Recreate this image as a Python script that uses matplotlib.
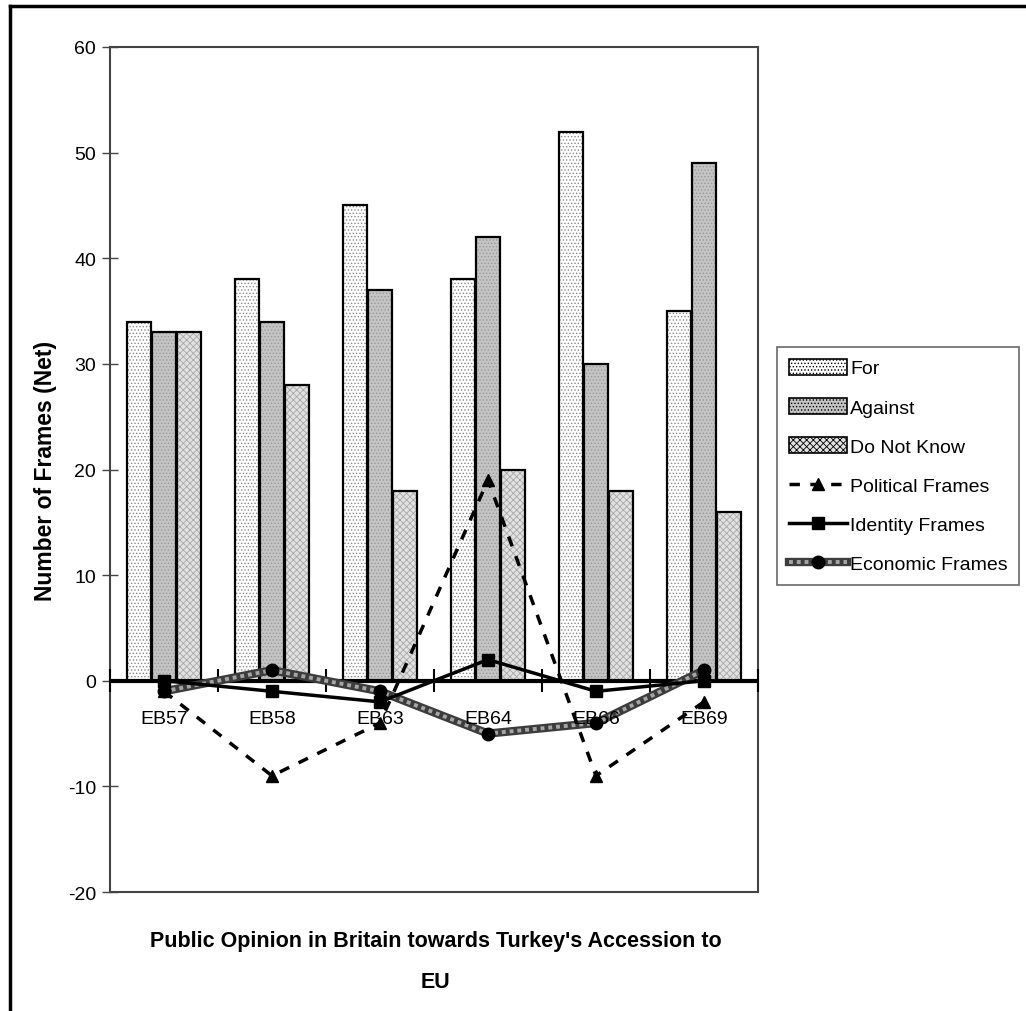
import matplotlib
matplotlib.use("Agg")
import numpy as np
from matplotlib import pyplot as plt
from matplotlib.lines import Line2D

plt.rcParams['font.family'] = ['Liberation Sans', 'DejaVu Sans']
plt.rcParams['hatch.linewidth'] = 0.6
plt.rcParams['axes.unicode_minus'] = False

waves = ['EB57', 'EB58', 'EB63', 'EB64', 'EB66', 'EB69']
for_vals = [34, 38, 45, 38, 52, 35]
against_vals = [33, 34, 37, 42, 30, 49]
dontknow_vals = [33, 28, 18, 20, 18, 16]
political = [-1, -9, -4, 19, -9, -2]
identity = [0, -1, -2, 2, -1, 0]
economic = [-1, 1, -1, -5, -4, 1]

W, H = 1026, 1012
fig = plt.figure(figsize=(W / 100, H / 100), dpi=100)
ax = fig.add_axes([110 / W, 1 - 893 / H, (758 - 110) / W, (893 - 48) / H])

x = np.arange(len(waves))
bw = 0.225
off = 0.23

# bar styles: (face, hatch, hatch colour)
styles = [
    ('white', '.....', '#8a8a8a'),
    ('#c4c4c4', '.....', '#9a9a9a'),
    ('#e2e2e2', 'xxxxx', '#a8a8a8'),
]
series = [for_vals, against_vals, dontknow_vals]
names = ['For', 'Against', 'Do Not Know']
bar_handles = []
for k, (vals, (fc, hatch, hc)) in enumerate(zip(series, styles)):
    pos = x + (k - 1) * off
    ax.bar(pos, vals, bw, color=fc, hatch=hatch, edgecolor=hc, linewidth=0, zorder=2)
    ax.bar(pos, vals, bw, fill=False, edgecolor='black', linewidth=1.6, zorder=3)
    bar_handles.append(plt.Rectangle((0, 0), 1, 1, facecolor=fc, hatch=hatch,
                                     edgecolor='black', linewidth=1.2))

# zero line with category boundary ticks
ax.axhline(0, color='black', lw=3, zorder=4)
ax.vlines(np.arange(len(waves) + 1) - 0.5, -1.1, 1.1, color='black', lw=1.5, zorder=4,
          clip_on=False)

pol, = ax.plot(x, political, color='black', ls=(0, (3, 3)), lw=2.5, marker='^',
               markersize=9, zorder=6)
ide, = ax.plot(x, identity, color='black', ls='-', lw=2.5, marker='s',
               markersize=8, zorder=6)
eco_base, = ax.plot(x, economic, color='#3c3c3c', lw=6, zorder=5)
eco_top, = ax.plot(x, economic, color='#a5a5a5', lw=2.8, ls=(0, (1, 1)), zorder=5)
eco_mk, = ax.plot(x, economic, ls='none', marker='o', markersize=9,
                  markerfacecolor='black', markeredgecolor='black', zorder=6)

ax.set_xlim(-0.5, 5.5)
ax.set_ylim(-20, 60)
ax.set_yticks(range(-20, 61, 10))
ax.tick_params(axis='y', direction='inout', length=12, width=1, color='#444444',
               labelsize=14, pad=4)
ax.set_xticks([])
for xi, lab in zip(x, waves):
    ax.text(xi, -3.6, lab, ha='center', va='center', fontsize=14, zorder=7)

for s in ax.spines.values():
    s.set_color('#444444')
    s.set_linewidth(1.5)

ax.set_ylabel('Number of Frames (Net)', fontsize=16.5, fontweight='bold', labelpad=8)
fig.text(436 / W, 1 - 962 / H, "Public Opinion in Britain towards Turkey's Accession to\nEU",
         ha='center', va='center', fontsize=15.5, fontweight='bold', linespacing=2.2)

leg = fig.legend(bar_handles + [pol, ide, (eco_base, eco_top, eco_mk)],
                 names + ['Political Frames', 'Identity Frames', 'Economic Frames'],
                 loc='upper left', bbox_to_anchor=(777 / W, 1 - 348 / H),
                 fontsize=14, frameon=True, fancybox=False, borderaxespad=0,
                 handlelength=3.0, handleheight=0.9, handletextpad=0.15,
                 labelspacing=1.05, borderpad=0.6)
leg.get_frame().set_edgecolor('#444444')
leg.get_frame().set_linewidth(1.2)

# outer frame (left and top)
fig.add_artist(Line2D([10 / W, 10 / W], [0, 1 - 7 / H], color='black', lw=2.5))
fig.add_artist(Line2D([10 / W, 1], [1 - 7 / H, 1 - 7 / H], color='black', lw=2.5))

fig.savefig('out.png', dpi=100)
